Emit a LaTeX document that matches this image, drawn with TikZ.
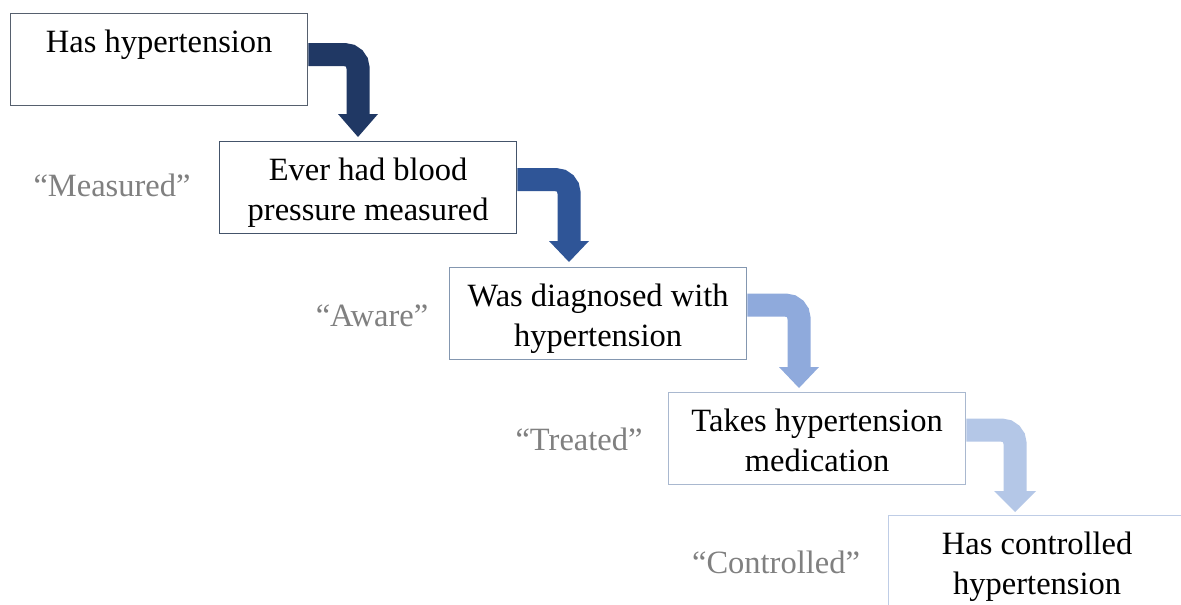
\documentclass[tikz,border=0pt]{standalone}
\usepackage{fontspec}
\setmainfont{Liberation Serif}
\newfontfamily\tnr{Liberation Serif}
\begin{document}
\begin{tikzpicture}[x=1pt,y=-1pt,
  box/.style={draw, line width=1.3pt, fill=white, minimum width=297pt, minimum height=92pt, inner sep=0pt, anchor=north west},
  boxtext/.style={font=\tnr\fontsize{32.5}{40}\selectfont, align=center, inner sep=0pt, anchor=north, yshift=-11pt},
  lab/.style={font=\tnr\fontsize{32.5}{40}\selectfont, text=labgray, inner sep=0pt, anchor=base},
  shaft/.style={line width=23pt, rounded corners=13pt}
]
\definecolor{labgray}{HTML}{808080}
\definecolor{bA}{HTML}{56606E}
\definecolor{bB}{HTML}{44546A}
\definecolor{bC}{HTML}{8497B0}
\definecolor{bD}{HTML}{A9B8CF}
\definecolor{bE}{HTML}{BFCDE6}
\definecolor{aA}{HTML}{203864}
\definecolor{aB}{HTML}{2F5597}
\definecolor{aC}{HTML}{8FAADC}
\definecolor{aD}{HTML}{B4C7E7}
\useasboundingbox (0,0) rectangle (1181,605);
\clip (0,0) rectangle (1181,605);
\fill[white] (0,0) rectangle (1181,605);

% boxes
\node[box, draw=bA] (b1) at (10,13) {};
\node[box, draw=bB] (b2) at (219,141) {};
\node[box, draw=bC] (b3) at (449,267) {};
\node[box, draw=bD] (b4) at (668,392) {};
\node[box, draw=bE] (b5) at (888,515) {};

\node[boxtext] (t1) at (b1.north) {\strut Has hypertension};
\node[boxtext] (t2) at (b2.north) {\strut Ever had blood\\ \strut pressure measured};
\node[boxtext] (t3) at (b3.north) {\strut Was diagnosed with\\ \strut hypertension};
\node[boxtext] (t4) at (b4.north) {\strut Takes hypertension\\ \strut medication};
\node[boxtext] (t5) at (b5.north) {\strut Has controlled\\ \strut hypertension};

% labels
\node[lab] (l2) at (112,196) {“Measured”};
\node[lab] (l3) at (372,326) {“Aware”};
\node[lab] (l4) at (579,450) {“Treated”};
\node[lab] (l5) at (776,573) {“Controlled”};

% arrows
\coordinate (a1s) at ([yshift=5pt]b1.east);
\coordinate (a1h) at (358,114);
\coordinate (a1t) at (358,137);
\draw[shaft, aA] (a1s) -| (a1h);
\fill[aA] ([xshift=-20pt]a1h) -- (a1t) -- ([xshift=20pt]a1h) -- cycle;

\coordinate (a2s) at ([yshift=8pt]b2.east);
\coordinate (a2h) at (569,241);
\coordinate (a2t) at (569,262);
\draw[shaft, aB] (a2s) -| (a2h);
\fill[aB] ([xshift=-20pt]a2h) -- (a2t) -- ([xshift=20pt]a2h) -- cycle;

\coordinate (a3s) at ([yshift=8.5pt]b3.east);
\coordinate (a3h) at (799,367);
\coordinate (a3t) at (799,388);
\draw[shaft, aC] (a3s) -| (a3h);
\fill[aC] ([xshift=-20pt]a3h) -- (a3t) -- ([xshift=20pt]a3h) -- cycle;

\coordinate (a4s) at ([yshift=8.5pt]b4.east);
\coordinate (a4h) at (1015,491);
\coordinate (a4t) at (1015,512);
\draw[shaft, aD] (a4s) -| (a4h);
\fill[aD] ([xshift=-21pt]a4h) -- (a4t) -- ([xshift=21pt]a4h) -- cycle;
\end{tikzpicture}
\end{document}
